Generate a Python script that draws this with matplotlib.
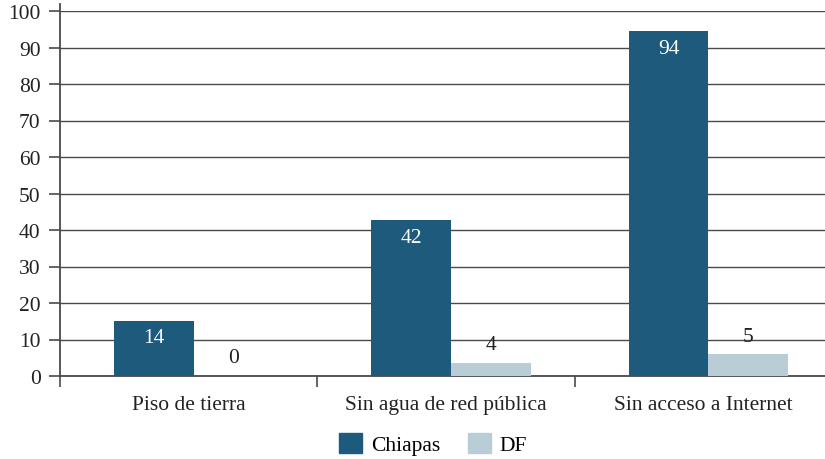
import matplotlib.pyplot as plt
import numpy as np
from matplotlib.patches import Patch

# Datos
categorias = ['Piso de tierra', 'Sin agua de red pública', 'Sin acceso a Internet']
chiapas = [15.1, 42.7, 94.5]
df_vals = [0.0, 3.6, 6.0]
etiquetas_chiapas = ['14', '42', '94']
etiquetas_df = ['0', '4', '5']
ticks_y = [0, 10, 20, 30, 40, 50, 60, 70, 80, 90, 100]

COLOR_CHIAPAS = '#1d5a7c'
COLOR_DF = '#b9cdd6'
GRIS = '#4a4a4a'
FS = 15.5

plt.rcParams['font.family'] = ['Liberation Serif', 'DejaVu Serif']

fig = plt.figure(figsize=(8.25, 4.6), dpi=100, facecolor='white')
ax = fig.add_axes([60 / 825, 83 / 460, 772 / 825, 365 / 460])

x = np.arange(len(categorias)) + 0.52
ancho = 0.31

b1 = ax.bar(x - ancho / 2, chiapas, ancho, color=COLOR_CHIAPAS, zorder=3)
b2 = ax.bar(x + ancho / 2, df_vals, ancho, color=COLOR_DF, zorder=3)

# Etiquetas de valor
for rect, txt in zip(b1, etiquetas_chiapas):
    ax.annotate(txt, (rect.get_x() + rect.get_width() / 2, rect.get_height()),
                xytext=(0, -17), textcoords='offset pixels', ha='center', va='center',
                color='white', fontsize=FS, zorder=4)
for rect, txt in zip(b2, etiquetas_df):
    ax.annotate(txt, (rect.get_x() + rect.get_width() / 2, rect.get_height()),
                xytext=(0, 18), textcoords='offset pixels', ha='center', va='center',
                color='#222222', fontsize=FS, zorder=4)

ax.set_xlim(0, 3)
ax.set_ylim(0, 100)
ax.set_yticks(ticks_y)
ax.yaxis.grid(True, color=GRIS, linewidth=1.0, zorder=0)
ax.set_axisbelow(True)

# Eje x: marcas en los limites de categoria, textos al centro
ax.set_xticks([0, 1, 2, 3])
ax.set_xticklabels([])
ax.set_xticks(np.arange(len(categorias)) + 0.5, minor=True)
ax.set_xticklabels(categorias, minor=True, fontsize=FS, color='#222222')
ax.tick_params(axis='x', which='minor', length=0, pad=14)
ax.tick_params(axis='x', which='major', length=8, width=1.2, color=GRIS)
ax.tick_params(axis='y', length=8, width=1.2, color=GRIS, labelsize=FS,
               labelcolor='#222222', pad=6)

for s in ['top', 'right']:
    ax.spines[s].set_visible(False)
for s in ['left', 'bottom']:
    ax.spines[s].set_color(GRIS)
    ax.spines[s].set_linewidth(1.3)
ax.spines['left'].set_bounds(0, 102)

handles = [Patch(color=COLOR_CHIAPAS, label='Chiapas'), Patch(color=COLOR_DF, label='DF')]
fig.legend(handles=handles, loc='center', bbox_to_anchor=(433 / 825, 1 - 445 / 460),
           ncol=2, frameon=False, fontsize=FS, handlelength=1.07, handleheight=1.07,
           columnspacing=1.3, handletextpad=0.4)

plt.savefig('out.png', dpi=100, facecolor='white')
